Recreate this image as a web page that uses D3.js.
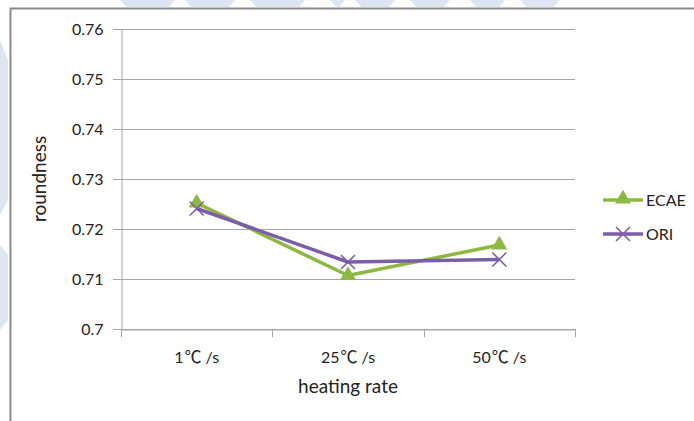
<!DOCTYPE html>
<html>
<head>
<meta charset="utf-8">
<script src="https://cdn.jsdelivr.net/npm/d3@7"></script>
<style>
  html, body { margin: 0; padding: 0; background: #fff; }
  svg { display: block; }
  text { font-family: Lato, "Open Sans", sans-serif; fill: #222; }
</style>
</head>
<body>
<svg id="chart" width="694" height="421"></svg>
<script>
// Heating-rate categories and roundness per series
const categories = ["1\u2103/s", "25\u2103/s", "50\u2103/s"];
const ecaeValues = [0.7252, 0.7107, 0.7168];
const oriValues = [0.7241, 0.7134, 0.7139];
const yTicks = [0.7, 0.71, 0.72, 0.73, 0.74, 0.75, 0.76];
const seriesNames = ["ECAE", "ORI"];

const svg = d3.select("#chart");

// faint background artwork behind the chart frame
const wm = svg.append("g").attr("fill", "#c9d5ea").attr("opacity", 0.6);
const topShapes = [[120, 175], [185, 235], [250, 305], [330, 345], [355, 395], [410, 450], [470, 505], [520, 560]];
topShapes.forEach(([a, b]) => wm.append("path")
  .attr("d", `M${a},0 L${b},0 L${b - 6},7 L${a + 6},7 Z`));
wm.append("path").attr("d", "M0,40 L8,60 L8,200 L0,215 Z");
wm.append("path").attr("d", "M0,245 L8,255 L8,320 L0,330 Z");

// chart frame
svg.append("path")
  .attr("d", "M10.5,421 L10.5,8.5 L694,8.5")
  .attr("fill", "none").attr("stroke", "#8a8a8a").attr("stroke-width", 2);

const plotLeft = 121, plotRight = 575, plotTop = 29, plotBottom = 329;

const x = d3.scaleBand().domain(categories).range([plotLeft, plotRight]);
const y = d3.scaleLinear().domain([0.7, 0.76]).range([plotBottom, plotTop]);

// gridlines
svg.append("g").selectAll("line").data(yTicks).join("line")
  .attr("x1", plotLeft - 8).attr("x2", plotRight)
  .attr("y1", d => Math.round(y(d)) + 0.5).attr("y2", d => Math.round(y(d)) + 0.5)
  .attr("stroke", "#a6a6a6").attr("stroke-width", 1);

// y axis
const yAxis = svg.append("g").attr("transform", `translate(${plotLeft + 0.5},0)`)
  .call(d3.axisLeft(y).tickValues(yTicks).tickSize(8)
    .tickFormat(d => String(+d.toFixed(2))));
yAxis.select(".domain").attr("stroke", "#a6a6a6");
yAxis.selectAll(".tick line").attr("stroke", "#a6a6a6");
yAxis.selectAll(".tick text").attr("x", -18).attr("dy", "0.36em")
  .style("font-size", "16px").style("font-family", "Lato, 'Open Sans', sans-serif").attr("fill", "#222");

// x axis
const xAxis = svg.append("g").attr("transform", `translate(0,${plotBottom + 0.5})`)
  .call(d3.axisBottom(x).tickSize(0));
xAxis.select(".domain").attr("stroke", "#a6a6a6");
xAxis.selectAll(".tick text")
  .attr("y", 33).attr("dy", 0)
  .style("font-size", "16px").style("font-family", "Lato, 'Open Sans', sans-serif").attr("fill", "#222")
  .each(function (d) {
    // render the degree sign with a CJK face and give it full-width spacing
    const t = d3.select(this).text("");
    const parts = d.split("\u2103");
    t.append("tspan").text(parts[0]);
    t.append("tspan").attr("dx", 1).style("font-family", "'Noto Sans CJK SC'").style("font-size", "17px").attr("fill", "#222").text("\u2103");
    t.append("tspan").attr("dx", 4).text(parts[1]);
  });
// category boundary ticks
const bounds = categories.map(c => x(c)).concat([plotRight]);
svg.append("g").selectAll("line").data(bounds).join("line")
  .attr("x1", d => Math.round(d) + 0.5).attr("x2", d => Math.round(d) + 0.5)
  .attr("y1", plotBottom).attr("y2", plotBottom + 8)
  .attr("stroke", "#a6a6a6");

// axis titles
svg.append("text").attr("x", 348).attr("y", 393).attr("text-anchor", "middle")
  .style("font-size", "19px").text("heating rate");
svg.append("text").attr("transform", "translate(46,179) rotate(-90)").attr("text-anchor", "middle")
  .style("font-size", "19px").text("roundness");

const cx = c => x(c) + x.bandwidth() / 2;
const green = "#8db843", purple = "#7b5ea7";
const line = d3.line().x(d => cx(d.c)).y(d => y(d.v));

const ecae = categories.map((c, i) => ({ c, v: ecaeValues[i] }));
const ori = categories.map((c, i) => ({ c, v: oriValues[i] }));

svg.append("path").datum(ecae).attr("d", line)
  .attr("fill", "none").attr("stroke", green).attr("stroke-width", 3.5).attr("stroke-linejoin", "round");
svg.append("path").datum(ori).attr("d", line)
  .attr("fill", "none").attr("stroke", purple).attr("stroke-width", 3.5).attr("stroke-linejoin", "round");

const tri = d3.symbol().type(d3.symbolTriangle).size(110);
svg.append("g").selectAll("path").data(ecae).join("path")
  .attr("d", tri).attr("fill", green)
  .attr("transform", d => `translate(${cx(d.c)},${y(d.v)})`);

const cross = (g, px, py, s) => g.append("path")
  .attr("d", `M${px - s},${py - s} L${px + s},${py + s} M${px - s},${py + s} L${px + s},${py - s}`)
  .attr("stroke", purple).attr("stroke-width", 1.6).attr("fill", "none");
const crosses = svg.append("g");
ori.forEach(d => cross(crosses, cx(d.c), y(d.v), 7));

// legend
const lg = svg.append("g");
const legendRows = [{ name: seriesNames[0], color: green, y: 200 }, { name: seriesNames[1], color: purple, y: 234 }];
legendRows.forEach((r, i) => {
  lg.append("line").attr("x1", 603).attr("x2", 643).attr("y1", r.y).attr("y2", r.y)
    .attr("stroke", r.color).attr("stroke-width", 3.5);
  if (i === 0) {
    lg.append("path").attr("d", tri).attr("fill", green).attr("transform", `translate(623,${r.y - 1})`);
  } else {
    cross(lg, 623, r.y, 7);
  }
  lg.append("text").attr("x", 646).attr("y", r.y).attr("dy", "0.36em")
    .style("font-size", "16px").text(r.name);
});
</script>
</body>
</html>
